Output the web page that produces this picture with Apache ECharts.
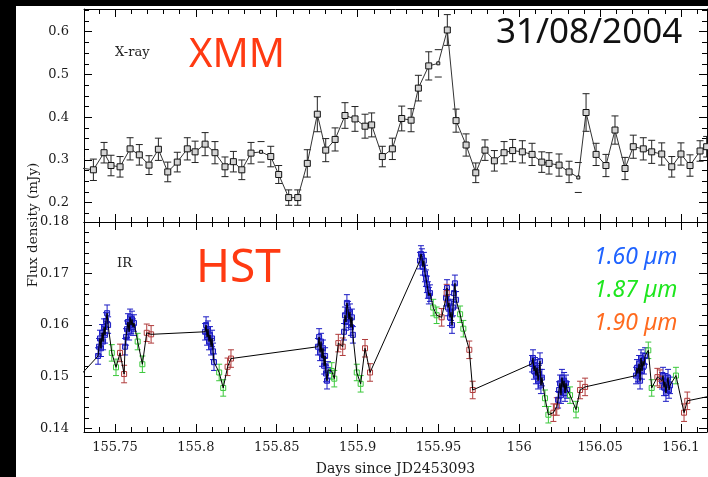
<!DOCTYPE html>
<html>
<head>
<meta charset="utf-8">
<script src="https://cdn.jsdelivr.net/npm/echarts@6/dist/echarts.min.js"></script>
<style>
html, body { margin: 0; padding: 0; background: #000; }
#paper { position: absolute; left: 16px; top: 6px; width: 692px; height: 471px; background: #fff; }
#chart { position: absolute; left: 0; top: 0; width: 708px; height: 477px; }
</style>
</head>
<body>
<div id="paper"></div>
<div id="chart"></div>
<script>
// X-ray (XMM) light curve
const xrayX = [155.7290, 155.7366, 155.7432, 155.7475, 155.7531, 155.7593, 155.7650, 155.7710, 155.7768, 155.7826,
  155.7885, 155.7947, 155.7995, 155.8057, 155.8118, 155.8180, 155.8232, 155.8284, 155.8341, 155.8403,
  155.8463, 155.8512, 155.8574, 155.8630, 155.8689, 155.8751, 155.8803, 155.8861, 155.8922, 155.8984,
  155.9046, 155.9087, 155.9153, 155.9215, 155.9273, 155.9331, 155.9376, 155.9440, 155.9499, 155.9555,
  155.9609, 155.9671, 155.9731, 155.9788, 155.9846, 155.9906, 155.9959, 156.0019, 156.0079, 156.0139,
  156.0184, 156.0246, 156.0308, 156.0365, 156.0413, 156.0475, 156.0536, 156.0592, 156.0654, 156.0705,
  156.0767, 156.0819, 156.0881, 156.0943, 156.1000, 156.1056, 156.1118, 156.1159]
const xrayY = [0.281, 0.277, 0.317, 0.287, 0.284, 0.326, 0.312, 0.288, 0.325, 0.272,
  0.295, 0.326, 0.319, 0.337, 0.317, 0.284, 0.296, 0.277, 0.316, 0.319,
  0.308, 0.266, 0.212, 0.212, 0.292, 0.407, 0.323, 0.348, 0.404, 0.396,
  0.379, 0.382, 0.308, 0.326, 0.397, 0.393, 0.468, 0.520, 0.526, 0.604,
  0.392, 0.335, 0.270, 0.323, 0.298, 0.317, 0.322, 0.319, 0.313, 0.295,
  0.292, 0.288, 0.272, 0.259, 0.411, 0.313, 0.287, 0.370, 0.280, 0.331,
  0.326, 0.319, 0.314, 0.284, 0.314, 0.287, 0.321, 0.331]
const xrayErr = [0.025, 0.025, 0.024, 0.024, 0.024, 0.026, 0.024, 0.022, 0.026, 0.023,
  0.023, 0.026, 0.025, 0.027, 0.026, 0.023, 0.024, 0.023, 0.025, 0.024,
  0.024, 0.021, 0.018, 0.018, 0.032, 0.041, 0.027, 0.027, 0.030, 0.029,
  0.028, 0.028, 0.024, 0.025, 0.029, 0.027, 0.030, 0.033, 0.032, 0.036,
  0.027, 0.026, 0.023, 0.024, 0.024, 0.026, 0.026, 0.026, 0.026, 0.024,
  0.025, 0.026, 0.025, 0.035, 0.044, 0.026, 0.026, 0.033, 0.026, 0.027,
  0.026, 0.027, 0.026, 0.024, 0.026, 0.025, 0.024, 0.024]
// points drawn with caps only (no stem)
const xrayCapsOnly = [19, 38, 53]

// IR (HST) points [day, flux]
const irBlue = [
  [155.7395, 0.1540], [155.7401, 0.1558], [155.7407, 0.1574], [155.7413, 0.1555], [155.7420, 0.1585], [155.7426, 0.1568],
  [155.7432, 0.1596], [155.7438, 0.1581], [155.7444, 0.1608], [155.7451, 0.1623], [155.7457, 0.1600],
  [155.7562, 0.1558], [155.7568, 0.1577], [155.7574, 0.1592], [155.7580, 0.1606], [155.7587, 0.1587], [155.7593, 0.1615],
  [155.7599, 0.1600], [155.7605, 0.1611], [155.7611, 0.1596], [155.7617, 0.1604],
  [155.8057, 0.1587], [155.8063, 0.1600], [155.8069, 0.1577], [155.8075, 0.1592], [155.8081, 0.1568], [155.8087, 0.1581],
  [155.8094, 0.1558], [155.8100, 0.1574], [155.8106, 0.1549], [155.8112, 0.1528],
  [155.8755, 0.1558], [155.8762, 0.1577], [155.8768, 0.1547], [155.8774, 0.1568], [155.8780, 0.1536], [155.8786, 0.1555],
  [155.8793, 0.1521], [155.8799, 0.1540], [155.8805, 0.1506], [155.8811, 0.1492], [155.8817, 0.1513],
  [155.8916, 0.1587], [155.8922, 0.1619], [155.8928, 0.1606], [155.8934, 0.1643], [155.8941, 0.1630], [155.8947, 0.1611],
  [155.8953, 0.1625], [155.8959, 0.1596], [155.8965, 0.1615], [155.8971, 0.1581],
  [155.9386, 0.1725], [155.9392, 0.1738], [155.9398, 0.1732], [155.9404, 0.1713], [155.9410, 0.1725], [155.9417, 0.1700],
  [155.9423, 0.1691], [155.9429, 0.1679], [155.9435, 0.1668], [155.9441, 0.1657], [155.9448, 0.1662],
  [155.9547, 0.1653], [155.9553, 0.1672], [155.9559, 0.1634], [155.9565, 0.1643], [155.9572, 0.1615], [155.9578, 0.1625],
  [155.9584, 0.1600], [155.9590, 0.1634], [155.9596, 0.1662], [155.9602, 0.1681], [155.9609, 0.1649],
  [156.0079, 0.1525], [156.0085, 0.1536], [156.0091, 0.1511], [156.0097, 0.1521], [156.0103, 0.1502], [156.0110, 0.1517],
  [156.0116, 0.1492], [156.0122, 0.1506], [156.0128, 0.1530], [156.0134, 0.1483], [156.0140, 0.1498],
  [156.0240, 0.1455], [156.0246, 0.1474], [156.0252, 0.1487], [156.0258, 0.1464], [156.0264, 0.1498], [156.0271, 0.1479],
  [156.0277, 0.1492], [156.0283, 0.1468], [156.0289, 0.1487], [156.0295, 0.1474],
  [156.0722, 0.1502], [156.0728, 0.1517], [156.0734, 0.1506], [156.0741, 0.1525], [156.0747, 0.1492], [156.0753, 0.1536],
  [156.0759, 0.1511], [156.0765, 0.1530], [156.0771, 0.1521], [156.0778, 0.1540],
  [156.0883, 0.1492], [156.0889, 0.1502], [156.0895, 0.1479], [156.0901, 0.1490], [156.0907, 0.1468], [156.0914, 0.1487],
  [156.0920, 0.1498], [156.0926, 0.1474], [156.0932, 0.1483]
]
const irGreen = [
  [155.7480, 0.1546], [155.7506, 0.1518], [155.7640, 0.1568], [155.7669, 0.1524],
  [155.8144, 0.1508], [155.8169, 0.1478], [155.8840, 0.1511], [155.8856, 0.1496],
  [155.8995, 0.1508], [155.9019, 0.1486], [155.9468, 0.1634], [155.9489, 0.1619],
  [155.9634, 0.1621], [155.9654, 0.1593], [156.0159, 0.1458], [156.0180, 0.1426],
  [156.0314, 0.1464], [156.0351, 0.1436], [156.0798, 0.1551], [156.0819, 0.1478],
  [156.0969, 0.1502]
]
const irRed = [
  [155.7531, 0.1546], [155.7556, 0.1505], [155.7696, 0.1585], [155.7723, 0.1582],
  [155.8196, 0.1519], [155.8217, 0.1535], [155.8881, 0.1565], [155.8908, 0.1558],
  [155.9046, 0.1555], [155.9077, 0.1508], [155.9520, 0.1615], [155.9551, 0.1662],
  [155.9691, 0.1552], [155.9712, 0.1474], [156.0211, 0.1430], [156.0232, 0.1442],
  [156.0376, 0.1474], [156.0407, 0.1480], [156.0854, 0.1499], [156.0870, 0.1496],
  [156.1019, 0.1430], [156.1039, 0.1453]
]
// line continues beyond the plotted window on both sides
const irLineEnds = [[155.7222, 0.1481], [156.1241, 0.1466]]
const irBlueErr = 0.0016
const irGreenErr = 0.0016
const irRedErr = 0.0017

// ticks
const xTicks = [155.75, 155.8, 155.85, 155.9, 155.95, 156, 156.05, 156.1]
const xTickLabels = ['155.75', '155.8', '155.85', '155.9', '155.95', '156', '156.05', '156.1']
const yTopTicks = [0.2, 0.3, 0.4, 0.5, 0.6]
const yTopLabels = ['0.2', '0.3', '0.4', '0.5', '0.6']
const yIrTicks = [0.14, 0.15, 0.16, 0.17, 0.18]
const yIrLabels = ['0.14', '0.15', '0.16', '0.17', '0.18']

const X_MIN = 155.7308, X_MAX = 156.1161
const YT_MIN = 0.1549, YT_MAX = 0.6531
const YB_MIN = 0.13925, YB_MAX = 0.18

function steps(from, to, step, nd) {
  let out = []
  for (let i = 0; from + i * step <= to + 1e-9; i++) out.push(+(from + i * step).toFixed(nd))
  return out
}
const xMinor = steps(155.74, 156.11, 0.01, 2)
const yTopMinor = steps(0.175, 0.65, 0.025, 3)
const yIrMinor = steps(0.14, 0.18, 0.002, 3)

const labelFont = { fontFamily: 'DejaVu Serif', fontSize: 13, color: '#1a1a1a' }

function axisSet(dim, gridIndex, min, max, major, minor, labels, showLabels, extra) {
  const sides = dim === 'x' ? ['bottom', 'top'] : ['left', 'right']
  let list = []
  sides.forEach((pos, k) => {
    list.push(Object.assign({
      type: 'value', gridIndex, position: pos, min, max,
      splitLine: { show: false },
      axisLine: { show: true, onZero: false, lineStyle: { color: '#000', width: 1 } },
      axisTick: { show: true, inside: true, length: 8, customValues: major, lineStyle: { color: '#000' } },
      axisLabel: Object.assign({
        show: showLabels && k === 0, customValues: major,
        margin: dim === 'x' ? 9 : 15,
        formatter: v => labels[major.indexOf(v)] ?? String(v)
      }, labelFont)
    }, k === 0 ? extra : {}))
  })
  sides.forEach(pos => {
    list.push({
      type: 'value', gridIndex, position: pos, min, max,
      splitLine: { show: false },
      axisLine: { show: false, onZero: false },
      axisTick: { show: true, inside: true, length: 5, customValues: minor, lineStyle: { color: '#000' } },
      axisLabel: { show: false }
    })
  })
  return list
}

function errorBars(color, capHalf) {
  return function (params, api) {
    const x = api.value(0), y = api.value(1), e = api.value(2)
    const hi = api.coord([x, y + e])
    const lo = api.coord([x, y - e])
    const st = { stroke: color, lineWidth: 1 }
    let kids = [
      { type: 'line', shape: { x1: hi[0] - capHalf, y1: hi[1], x2: hi[0] + capHalf, y2: hi[1] }, style: st },
      { type: 'line', shape: { x1: lo[0] - capHalf, y1: lo[1], x2: lo[0] + capHalf, y2: lo[1] }, style: st }
    ]
    if (!api.value(3)) {
      kids.push({ type: 'line', shape: { x1: hi[0], y1: hi[1], x2: lo[0], y2: lo[1] }, style: st })
    }
    return { type: 'group', children: kids }
  }
}

const xrayData = xrayX.map((x, i) => [x, xrayY[i], xrayErr[i], xrayCapsOnly.includes(i) ? 1 : 0])
const irBands = [
  { pts: irBlue, err: irBlueErr, color: '#1c1cc4', fill: 'rgba(40,40,210,0.35)' },
  { pts: irGreen, err: irGreenErr, color: '#3cc83c', fill: 'rgba(255,255,255,0)' },
  { pts: irRed, err: irRedErr, color: '#b03c3c', fill: 'rgba(255,255,255,0)' }
]
const irLine = irBlue.concat(irGreen, irRed, irLineEnds).slice().sort((a, b) => a[0] - b[0])

let series = [
  {
    type: 'custom', xAxisIndex: 0, yAxisIndex: 0, clip: true,
    renderItem: errorBars('#222', 3.5), encode: { x: 0, y: 1 },
    data: xrayData, z: 2
  },
  {
    type: 'line', xAxisIndex: 0, yAxisIndex: 0, clip: true,
    data: xrayData.map(d => [d[0], d[1]]), showSymbol: false, symbol: 'none',
    lineStyle: { color: '#333', width: 1 }, z: 3
  },
  {
    type: 'scatter', xAxisIndex: 0, yAxisIndex: 0, clip: true,
    data: xrayData, symbol: 'rect',
    symbolSize: (v) => v[3] ? 3 : 6,
    itemStyle: { color: '#d4d4d4', borderColor: '#111', borderWidth: 1, opacity: 1 }, z: 4
  }
]
irBands.forEach(b => {
  series.push({
    type: 'custom', xAxisIndex: 4, yAxisIndex: 4, clip: true,
    renderItem: errorBars(b.color, 3), encode: { x: 0, y: 1 },
    data: b.pts.map(p => [p[0], p[1], b.err, 0]), z: 2
  })
  series.push({
    type: 'scatter', xAxisIndex: 4, yAxisIndex: 4, clip: true,
    data: b.pts, symbol: 'rect', symbolSize: 5,
    itemStyle: { color: b.fill, borderColor: b.color, borderWidth: 1, opacity: 1 }, z: 3
  })
})
series.push({
  type: 'line', xAxisIndex: 4, yAxisIndex: 4, clip: true,
  data: irLine, showSymbol: false, symbol: 'none',
  lineStyle: { color: '#000', width: 1 }, z: 5
})

function txt(text, x, y, font, fill, align, rotation) {
  return {
    type: 'text', x, y, rotation: rotation || 0,
    style: { text, x: 0, y: 0, font, fill, textAlign: align || 'left', textVerticalAlign: 'middle' }
  }
}

const chart = echarts.init(document.getElementById('chart'))
chart.setOption({
  animation: false,
  backgroundColor: 'transparent',
  grid: [
    { left: 84, top: 9, width: 623, height: 213 },
    { left: 84, top: 222, width: 623, height: 216 }
  ],
  xAxis: [].concat(
    axisSet('x', 0, X_MIN, X_MAX, xTicks, xMinor, xTickLabels, false),
    axisSet('x', 1, X_MIN, X_MAX, xTicks, xMinor, xTickLabels, true, {
      name: 'Days since JD2453093', nameLocation: 'middle', nameGap: 30,
      nameTextStyle: { fontFamily: 'DejaVu Serif', fontSize: 14, color: '#1a1a1a' }
    })
  ),
  yAxis: [].concat(
    axisSet('y', 0, YT_MIN, YT_MAX, yTopTicks, yTopMinor, yTopLabels, true),
    axisSet('y', 1, YB_MIN, YB_MAX, yIrTicks, yIrMinor, yIrLabels, true)
  ),
  series: series,
  graphic: [
    txt('Flux density (mJy)', 33, 225, '13.5px "DejaVu Serif"', '#1a1a1a', 'center', Math.PI / 2),
    txt('X-ray', 115, 53, '13px "DejaVu Serif"', '#222'),
    txt('IR', 117, 264, '13px "DejaVu Serif"', '#222'),
    txt('XMM', 189, 56, '40px "Noto Sans"', '#ff3a12'),
    txt('HST', 196, 269, '46px "Noto Sans"', '#ff3a12'),
    txt('31/08/2004', 496, 33, '35px "Noto Sans"', '#111'),
    txt('1.60 µm', 594, 257, 'italic 23px "Noto Sans"', '#1f63ff'),
    txt('1.87 µm', 594, 290, 'italic 23px "Noto Sans"', '#1ee61e'),
    txt('1.90 µm', 594, 323, 'italic 23px "Noto Sans"', '#ff6a1e')
  ]
})
</script>
</body>
</html>
